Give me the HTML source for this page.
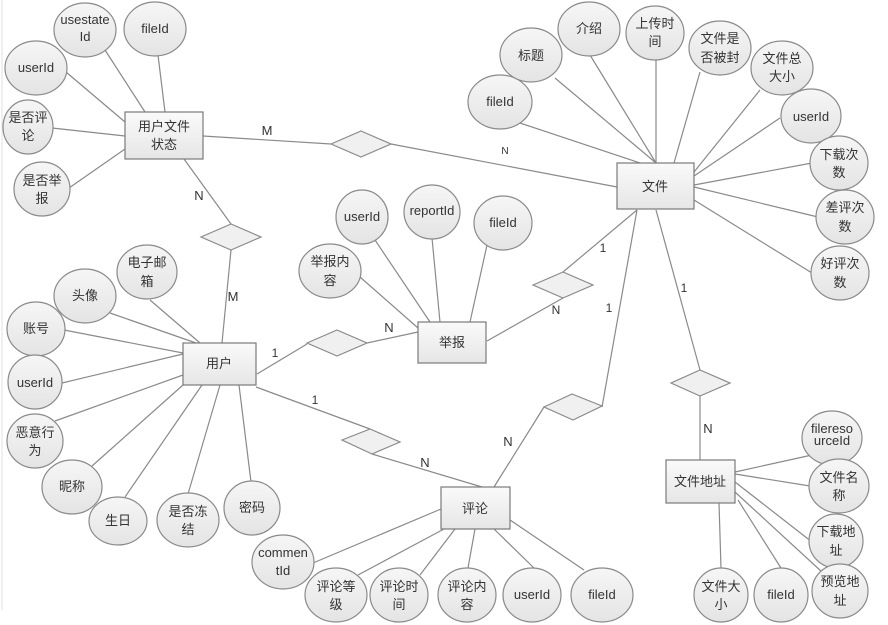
<!DOCTYPE html>
<html><head><meta charset="utf-8"><style>
html,body{margin:0;padding:0;background:#fff;}
svg{display:block;}
text{font-family:"Liberation Sans","Noto Sans CJK SC",sans-serif;font-size:13px;fill:#333;text-anchor:middle;}
.l{stroke:#8a8a8a;stroke-width:1.2;fill:none;}
.e{fill:url(#g);stroke:#8a8a8a;stroke-width:1.2;}
.r{fill:url(#g2);stroke:#7a7a7a;stroke-width:1.2;}
.d{fill:#f0f0f0;stroke:#8a8a8a;stroke-width:1.2;}
.s{font-size:12px;}
</style></head><body>
<svg width="888" height="625" viewBox="0 0 888 625" xmlns="http://www.w3.org/2000/svg">
<defs>
<linearGradient id="g" x1="0" y1="0" x2="0" y2="1"><stop offset="0" stop-color="#f6f6f6"/><stop offset="1" stop-color="#e4e4e4"/></linearGradient>
<linearGradient id="g2" x1="0" y1="0" x2="0" y2="1"><stop offset="0" stop-color="#fafafa"/><stop offset="1" stop-color="#e6e6e6"/></linearGradient>
</defs>
<line x1="2" y1="0" x2="2" y2="610" stroke="#e0e0e0"/>
<g class="l">
<line x1="105" y1="50" x2="145" y2="112"/><line x1="158" y1="55" x2="165" y2="112"/>
<line x1="66" y1="72" x2="125" y2="122"/><line x1="52" y1="128" x2="125" y2="136"/><line x1="69" y1="188" x2="125" y2="149"/>
<line x1="520" y1="123" x2="640" y2="163"/><line x1="555" y1="78" x2="656" y2="163"/><line x1="590" y1="55" x2="656" y2="163"/>
<line x1="656" y1="60" x2="656" y2="163"/><line x1="700" y1="72" x2="674" y2="163"/><line x1="760" y1="90" x2="694" y2="172"/>
<line x1="780" y1="118" x2="694" y2="176"/><line x1="812" y1="163" x2="694" y2="185"/><line x1="818" y1="217" x2="694" y2="187"/><line x1="812" y1="273" x2="694" y2="200"/>
<line x1="375" y1="240" x2="430" y2="322"/><line x1="432" y1="238" x2="440" y2="322"/><line x1="487" y1="245" x2="470" y2="322"/><line x1="360" y1="277" x2="418" y2="328"/>
<line x1="150" y1="300" x2="200" y2="343"/><line x1="110" y1="313" x2="196" y2="343"/><line x1="64" y1="330" x2="183" y2="353"/>
<line x1="62" y1="383" x2="183" y2="354"/><line x1="55" y1="421" x2="183" y2="375"/><line x1="92" y1="466" x2="183" y2="385"/>
<line x1="125" y1="497" x2="202" y2="385"/><line x1="188" y1="494" x2="220" y2="385"/><line x1="251" y1="482" x2="239" y2="385"/>
<line x1="313" y1="563" x2="441" y2="509"/><line x1="358" y1="575" x2="444" y2="529"/><line x1="420" y1="575" x2="455" y2="529"/>
<line x1="468" y1="568" x2="475" y2="529"/><line x1="534" y1="568" x2="494" y2="529"/><line x1="584" y1="570" x2="510" y2="520"/>
<line x1="812" y1="455" x2="735" y2="472"/><line x1="810" y1="486" x2="735" y2="474"/><line x1="812" y1="542" x2="735" y2="482"/>
<line x1="822" y1="572" x2="735" y2="492"/><line x1="781" y1="568" x2="738" y2="500"/><line x1="721" y1="568" x2="719" y2="503"/>
<polyline points="203,136 331,144"/><polyline points="391,144 617,187"/>
<polyline points="184,159 231,224"/><polyline points="231,250 222,343"/>
<polyline points="257,374 307,344"/><polyline points="367,343 418,332"/>
<polyline points="487,341 563,298"/><polyline points="563,272 637,210"/>
<polyline points="256,387 370,429"/><polyline points="372,454 482,487"/>
<polyline points="494,487 544,407"/><polyline points="602,407 637,210"/>
<polyline points="656,210 700,370"/><polyline points="700,396 700,460"/>
</g>
<g class="d">
<polygon points="331,144 361,131 391,144 361,157"/>
<polygon points="201,237 231,224 261,237 231,250"/>
<polygon points="307,343 337,330 367,343 337,356"/>
<polygon points="533,285 563,272 593,285 563,298"/>
<polygon points="342,440 370,429 400,442 372,454"/>
<polygon points="544,407 572,394 602,406 573,420"/>
<polygon points="671,383 700,370 730,383 700,396"/>
</g>
<g class="r">
<rect x="125" y="112" width="78" height="47"/><rect x="617" y="163" width="77" height="46"/>
<rect x="183" y="343" width="73" height="42"/><rect x="418" y="322" width="68" height="41"/>
<rect x="441" y="487" width="69" height="42"/><rect x="666" y="460" width="69" height="43"/>
</g>
<text x="164" y="131">用户文件</text><text x="164" y="149">状态</text>
<text x="655" y="191">文件</text><text x="219" y="368">用户</text><text x="452" y="347">举报</text>
<text x="475" y="513">评论</text><text x="700" y="486">文件地址</text>
<text x="267" y="135">M</text><text x="505" y="154" style="font-size:10px">N</text>
<text x="199" y="200">N</text><text x="233" y="301">M</text>
<text x="275" y="357" class="s">1</text><text x="389" y="332">N</text>
<text x="603" y="252" class="s">1</text><text x="556" y="314" class="s">N</text>
<text x="315" y="404" class="s">1</text><text x="425" y="467">N</text>
<text x="508" y="446">N</text><text x="609" y="312" class="s">1</text>
<text x="684" y="292" class="s">1</text><text x="708" y="433">N</text>
<g class="e">
<ellipse cx="85" cy="30" rx="31" ry="27"/><ellipse cx="155" cy="29" rx="31" ry="27"/>
<ellipse cx="36" cy="68" rx="31" ry="27"/><ellipse cx="28" cy="127" rx="25" ry="27"/><ellipse cx="42" cy="189" rx="28" ry="27"/>
<ellipse cx="500" cy="102" rx="32" ry="27"/><ellipse cx="531" cy="55" rx="31" ry="27"/><ellipse cx="589" cy="29" rx="31" ry="27"/>
<ellipse cx="655" cy="33" rx="29" ry="27"/><ellipse cx="720" cy="48" rx="31" ry="27"/><ellipse cx="782" cy="68" rx="31" ry="27"/>
<ellipse cx="811" cy="116" rx="30" ry="27"/><ellipse cx="839" cy="163" rx="29" ry="27"/><ellipse cx="845" cy="217" rx="29" ry="27"/><ellipse cx="840" cy="273" rx="29" ry="27"/>
<ellipse cx="362" cy="217" rx="26" ry="27"/><ellipse cx="432" cy="212" rx="28" ry="27"/><ellipse cx="503" cy="223" rx="29" ry="27"/><ellipse cx="330" cy="271" rx="31" ry="27"/>
<ellipse cx="147" cy="272" rx="30" ry="27"/><ellipse cx="85" cy="296" rx="31" ry="27"/><ellipse cx="36" cy="329" rx="29" ry="27"/>
<ellipse cx="35" cy="382" rx="27" ry="27"/><ellipse cx="35" cy="441" rx="28" ry="27"/><ellipse cx="72" cy="487" rx="30" ry="27"/>
<ellipse cx="118" cy="521" rx="29" ry="24"/><ellipse cx="188" cy="520" rx="31" ry="27"/><ellipse cx="252" cy="508" rx="28" ry="27"/>
<ellipse cx="283" cy="562" rx="31" ry="27"/><ellipse cx="336" cy="595" rx="31" ry="27"/><ellipse cx="399" cy="595" rx="29" ry="27"/>
<ellipse cx="467" cy="595" rx="29" ry="27"/><ellipse cx="532" cy="595" rx="29" ry="27"/><ellipse cx="602" cy="595" rx="31" ry="27"/>
<ellipse cx="832" cy="438" rx="30" ry="27"/><ellipse cx="839" cy="486" rx="30" ry="27"/><ellipse cx="836" cy="541" rx="27" ry="27"/>
<ellipse cx="840" cy="591" rx="28" ry="27"/><ellipse cx="781" cy="595" rx="27" ry="27"/><ellipse cx="721" cy="595" rx="27" ry="27"/>
</g>
<text x="85" y="24">usestate</text><text x="85" y="41">Id</text><text x="155" y="33">fileId</text>
<text x="36" y="72">userId</text><text x="28" y="122">是否评</text><text x="28" y="140">论</text>
<text x="42" y="185">是否举</text><text x="42" y="203">报</text>
<text x="500" y="106">fileId</text><text x="531" y="60">标题</text><text x="589" y="33">介绍</text>
<text x="655" y="28">上传时</text><text x="655" y="46">间</text><text x="720" y="43">文件是</text><text x="720" y="62">否被封</text>
<text x="782" y="63">文件总</text><text x="782" y="81">大小</text><text x="811" y="121">userId</text>
<text x="839" y="159">下载次</text><text x="839" y="177">数</text><text x="845" y="212">差评次</text><text x="845" y="231">数</text>
<text x="840" y="268">好评次</text><text x="840" y="287">数</text>
<text x="362" y="221">userId</text><text x="432" y="215">reportId</text><text x="503" y="227">fileId</text>
<text x="330" y="266">举报内</text><text x="330" y="285">容</text>
<text x="147" y="267">电子邮</text><text x="147" y="286">箱</text><text x="85" y="300">头像</text><text x="36" y="333">账号</text>
<text x="35" y="387">userId</text><text x="35" y="437">恶意行</text><text x="35" y="455">为</text><text x="72" y="491">昵称</text>
<text x="118" y="525">生日</text><text x="188" y="516">是否冻</text><text x="188" y="534">结</text><text x="252" y="512">密码</text>
<text x="283" y="557">commen</text><text x="283" y="575">tId</text><text x="336" y="591">评论等</text><text x="336" y="609">级</text>
<text x="399" y="591">评论时</text><text x="399" y="609">间</text><text x="467" y="591">评论内</text><text x="467" y="609">容</text>
<text x="532" y="599">userId</text><text x="602" y="599">fileId</text>
<text x="832" y="433">filereso</text><text x="832" y="445">urceId</text>
<text x="839" y="482">文件名</text><text x="839" y="500">称</text><text x="836" y="536">下载地</text><text x="836" y="555">址</text>
<text x="840" y="586">预览地</text><text x="840" y="605">址</text><text x="781" y="599">fileId</text>
<text x="721" y="591">文件大</text><text x="721" y="609">小</text>
</svg>
</body></html>
